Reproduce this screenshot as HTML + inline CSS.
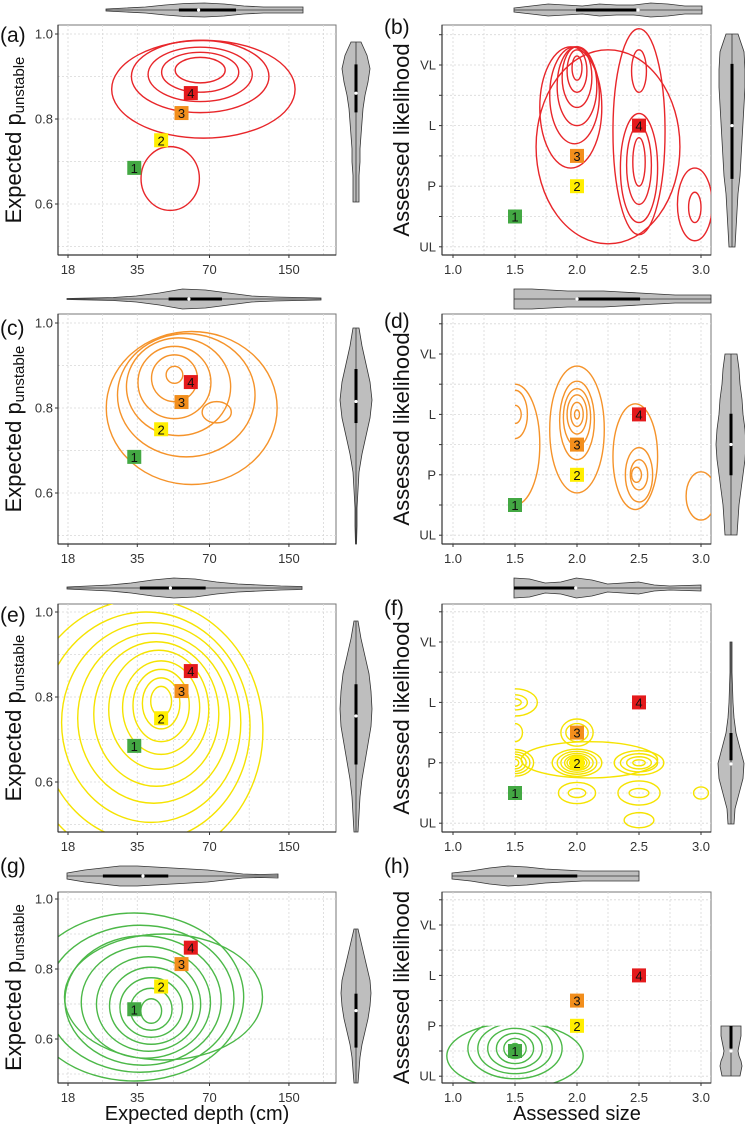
<!DOCTYPE html>
<html><head><meta charset="utf-8">
<style>
html,body{margin:0;padding:0;background:#fff;}
svg{display:block;font-family:"Liberation Sans",sans-serif;}
</style></head>
<body>
<svg id="fig" width="745" height="1129" viewBox="0 0 745 1129" xmlns="http://www.w3.org/2000/svg"></svg>
<script>
// ---- marker data (same in every row) ----
const markerLabels = ["1","2","3","4"];
const markerColors = ["#43a843","#ffee00","#f28e1c","#e41a1c"];
const depthVals = [34, 44, 53.5, 58.5];
const pVals = [0.685, 0.75, 0.814, 0.861];
const sizeVals = [1.5, 2.0, 2.0, 2.5];
const likVals = [2, 3, 4, 5];
// ---- axis ticks ----
const depthTicks = [18, 35, 70, 150];
const pTicks = [1.0, 0.8, 0.6];
const pMinor = [0.9, 0.7, 0.5];
const sizeTicks = [1.0, 1.5, 2.0, 2.5, 3.0];
const likLevels = [1,2,3,4,5,6,7,8];
const likLabels = ["UL","","P","","L","","VL",""];
// ---- contour rings (centre, radius in data units; x radius in ln-depth for left panels) ----
const aRingX=[64,64,64,64,66,48], aRingY=[0.915,0.91,0.905,0.9,0.87,0.66], aRingRX=[0.24,0.37,0.5,0.66,0.88,0.28], aRingRY=[0.03,0.047,0.064,0.085,0.115,0.075];
const bRingX=[2.0,2.0,2.0,2.0,1.98,1.95,2.5,2.5,2.5,2.5,2.5,2.95,2.95,2.25], bRingY=[6.9,6.8,6.6,6.3,6.0,5.6,6.8,3.8,3.7,3.6,4.8,2.3,2.4,4.3], bRingRX=[0.04,0.08,0.12,0.16,0.2,0.25,0.06,0.05,0.1,0.15,0.21,0.05,0.14,0.58], bRingRY=[0.4,0.7,1.0,1.3,1.6,2.0,0.7,0.8,1.3,1.8,3.4,0.5,1.2,3.2];
const cRingX=[50,50,50,52,56,59,75], cRingY=[0.878,0.87,0.86,0.85,0.83,0.8,0.79], cRingRX=[0.08,0.22,0.35,0.5,0.66,0.82,0.14], cRingRY=[0.02,0.055,0.085,0.115,0.145,0.18,0.025];
const dRingX=[2,2,2,2,2,2,2.48,2.5,2.5,2.47,1.5,1.5,1.5,3.0], dRingY=[5,5,5,4.9,4.8,4.5,3,3,3,3.6,5,5,4,2.3], dRingRX=[0.02,0.05,0.08,0.11,0.14,0.22,0.04,0.07,0.11,0.18,0.05,0.1,0.2,0.12], dRingRY=[0.15,0.4,0.65,0.95,1.3,2.1,0.25,0.5,0.9,1.75,0.3,0.8,2.0,0.8];
const eRingX=[44,44,44,44,43,42,41,40,38,37], eRingY=[0.79,0.785,0.78,0.775,0.77,0.76,0.75,0.74,0.73,0.72], eRingRX=[0.1,0.18,0.27,0.37,0.48,0.6,0.73,0.86,1.0,1.15], eRingRY=[0.035,0.06,0.085,0.11,0.14,0.17,0.2,0.235,0.27,0.31];
const fRingX=[2,2,2,2,2,2,2,2,2.5,2.5,2.5,2.5,1.5,1.5,1.5,1.5,1.5,2,2,2,1.5,1.5,1.5,1.5,2,2,2.5,2.5,3,2.5,2.1];
const fRingY=[3,3,3,3,3,3,3,3,3,3,3,3,3,3,3,3,3,4,4,4,5,5,5,4,2,2,2,2,2,1.1,3.1];
const fRingRX=[0.02,0.04,0.06,0.08,0.1,0.13,0.16,0.2,0.05,0.1,0.15,0.2,0.03,0.06,0.09,0.12,0.15,0.05,0.09,0.13,0.05,0.1,0.18,0.06,0.07,0.15,0.08,0.17,0.06,0.12,0.55];
const fRingRY=[0.06,0.1,0.15,0.2,0.25,0.31,0.38,0.45,0.1,0.2,0.3,0.4,0.12,0.2,0.28,0.36,0.44,0.15,0.3,0.45,0.12,0.25,0.45,0.3,0.15,0.35,0.15,0.4,0.2,0.25,0.6];
const gRingX=[40,40,40,40,39,38,37,36,34,45], gRingY=[0.68,0.685,0.69,0.695,0.7,0.705,0.71,0.715,0.72,0.72], gRingRX=[0.1,0.2,0.3,0.4,0.5,0.62,0.75,0.9,1.05,0.95], gRingRY=[0.035,0.06,0.085,0.11,0.135,0.16,0.185,0.21,0.24,0.18];
const hRingX=[1.5,1.5,1.5,1.5,1.5,1.5,1.5], hRingY=[2.1,2.1,2.1,2.1,2.1,2.1,1.8], hRingRX=[0.04,0.09,0.15,0.22,0.3,0.38,0.55], hRingRY=[0.2,0.4,0.6,0.8,1.0,1.2,1.3];
// ---- violin half-widths ----
const aTopW=[1,2,3,5,6.5,7,6,4,3,3,3], bTopW=[2,4,6,5,4,6,5,5,7,6,4,4], cTopW=[0.5,1,1.5,3,6,10,9,6,3,2,1.5,1], dTopW=[10,10,9,8,8,8,7,6,5,4,4,4];
const eTopW=[1,2,3,5,8,10,9,6,4,3,2,1.5], fTopW=[10,9,5,6,10,8,4,5,6,3,2,2.5,3], gTopW=[3,6,8,10,10,9,8,7,6,4,2,1.5,2], hTopW=[3,5,8,10,9,7,6,5,5,5,5];
const aSideW=[5,11,14,12,9,7,6,5,4,4,3,3,3], bSideW=[6,12,13,13,12,11,10,9,8,6,5,4,3], cSideW=[3,6,10,14,16,14,10,6,3,2,1,1,0.5], dSideW=[6,8,9,11,12,14,15,14,12,10,8,7,6];
const eSideW=[2,5,9,13,15,16,15,12,9,6,4,3,2], fSideW=[1,1,1,1.5,2,3,5,9,13,12,8,4,3], gSideW=[2,5,8,11,14,15,14,12,9,6,4,3,2], hSideW=[10,10,10,9,8,7,8,10,11,10,9];
const topBox=[[0.37,0.66,0.47],[0.33,0.65,0.66],[0.40,0.61,0.48],[0.32,0.64,0.32],[0.31,0.59,0.44],[0,0.33,0.33],[0.17,0.48,0.36],[0.34,0.67,0.34]];
const sideBox=[[0.14,0.44,0.32],[0.14,0.68,0.43],[0.19,0.44,0.34],[0.33,0.67,0.5],[0.3,0.68,0.45],[0.5,0.65,0.67],[0.42,0.77,0.53],[0,0.45,0.5]];

const NS="http://www.w3.org/2000/svg";
const svg=document.getElementById('fig');
function mk(tag,attrs,parent){const e=document.createElementNS(NS,tag);for(const k in attrs)e.setAttribute(k,attrs[k]);(parent||svg).appendChild(e);return e;}

const rows=[{top:25,bot:255,y1:34,pp:425,vl:65,lp:30.3,label:42,rlabel:34},
{top:314,bot:544,y1:323,pp:425,vl:354,lp:30.2,label:335,rlabel:328},
{top:604,bot:832,y1:612,pp:425,vl:642,lp:30.2,label:622,rlabel:615},
{top:892,bot:1083,y1:899,pp:350,vl:925,lp:25.2,label:873,rlabel:873}];
const colors=["#e8262a","#f5932a","#f5e300","#4cb848"];
const L0=58,L1=336,R0=442,R1=711;
function sxL(d){return 68+104.2*Math.log(d/18);}
function sxR(s){return 453+124*(s-1);}

const ringsL=[[aRingX,aRingY,aRingRX,aRingRY],[cRingX,cRingY,cRingRX,cRingRY],[eRingX,eRingY,eRingRX,eRingRY],[gRingX,gRingY,gRingRX,gRingRY]];
const ringsR=[[bRingX,bRingY,bRingRX,bRingRY],[dRingX,dRingY,dRingRX,dRingRY],[fRingX,fRingY,fRingRX,fRingRY],[hRingX,hRingY,hRingRX,hRingRY]];
const topW=[aTopW,bTopW,cTopW,dTopW,eTopW,fTopW,gTopW,hTopW];
const sideW=[aSideW,bSideW,cSideW,dSideW,eSideW,fSideW,gSideW,hSideW];
const topSpan=[[106,303,10],[514,702,10],[67,321,299],[514,711,299],[67,302,588],[514,701,588],[67,278,876],[452,639,876]];
const sideSpan=[[356,42,202],[732,34,247],[356,328,544],[731,354,535],[356,621,832],[731,642,824],[356,929,1083],[731,1026,1076]];
const letters="abcdefgh";

function violinTop(i){
  const [x0,x1,cy]=topSpan[i], w=topW[i], n=w.length;
  const g=mk('g',{});
  
  
  let up=[],dn=[];
  for(let k=0;k<n;k++){const x=x0+(x1-x0)*k/(n-1);up.push(x+','+(cy-w[k]));dn.unshift(x+','+(cy+w[k]));}
  mk('polygon',{points:up.concat(dn).join(' '),fill:'#bebebe',stroke:'#333','stroke-width':0.8},g);
  mk('line',{x1:x0,x2:x1,y1:cy,y2:cy,stroke:'#333','stroke-width':0.8},g);
  const b=topBox[i];
  mk('line',{x1:x0+(x1-x0)*b[0],x2:x0+(x1-x0)*b[1],y1:cy,y2:cy,stroke:'#000','stroke-width':3},g);
  mk('circle',{cx:x0+(x1-x0)*b[2],cy:cy,r:1.6,fill:'#fff'},g);
}
function violinSide(i){
  const [cx,y0,y1]=sideSpan[i], w=sideW[i], n=w.length;
  const g=mk('g',{});
  
  
  let l=[],r=[];
  for(let k=0;k<n;k++){const y=y0+(y1-y0)*k/(n-1);l.push((cx-w[k])+','+y);r.unshift((cx+w[k])+','+y);}
  mk('polygon',{points:l.concat(r).join(' '),fill:'#bebebe',stroke:'#333','stroke-width':0.8},g);
  mk('line',{x1:cx,x2:cx,y1:y0,y2:y1,stroke:'#333','stroke-width':0.8},g);
  const b=sideBox[i];
  mk('line',{y1:y0+(y1-y0)*b[0],y2:y0+(y1-y0)*b[1],x1:cx,x2:cx,stroke:'#000','stroke-width':3},g);
  mk('circle',{cy:y0+(y1-y0)*b[2],cx:cx,r:1.6,fill:'#fff'},g);
}

const defs=mk('defs',{});
rows.forEach((row,ri)=>{
  const syL=p=>row.y1+(1-p)*row.pp;
  const syR=l=>row.vl+(7-l)*row.lp;
  const li=ri*2, ri2=ri*2+1;
  const gl=mk('g',{});
  
  
  mk('rect',{x:L0,y:row.top,width:L1-L0,height:row.bot-row.top,fill:'#fff',stroke:'#777','stroke-width':1},gl);
  const lx=depthTicks.map(sxL);
  const lminor=[];for(let k=0;k<lx.length-1;k++)lminor.push((lx[k]+lx[k+1])/2);lminor.push(lx[lx.length-1]+(lx[1]-lx[0])/2);
  lx.concat(lminor).forEach(x=>mk('line',{x1:x,x2:x,y1:row.top,y2:row.bot,stroke:'#d8d8d8','stroke-width':0.8,'stroke-dasharray':'2,2'},gl));
  pTicks.concat(pMinor).forEach(p=>mk('line',{x1:L0,x2:L1,y1:syL(p),y2:syL(p),stroke:'#d8d8d8','stroke-width':0.8,'stroke-dasharray':'2,2'},gl));
  const cpL=mk('clipPath',{id:'clipL'+ri},defs);
  mk('rect',{x:L0,y:row.top,width:L1-L0,height:row.bot-row.top},cpL);
  const gcl=mk('g',{'clip-path':'url(#clipL'+ri+')'},gl);
  
  
  const R=ringsL[ri];
  for(let k=0;k<R[0].length;k++){
    const e=mk('ellipse',{cx:sxL(R[0][k]),cy:syL(R[1][k]),rx:R[2][k]*104.2,ry:R[3][k]*row.pp,fill:'none',stroke:colors[ri],'stroke-width':1.4},gcl);
    
    
  }
  mk('line',{x1:L0,x2:L0,y1:row.top,y2:row.bot,stroke:'#333','stroke-width':1.2},gl);
  mk('line',{x1:L0,x2:L1,y1:row.bot,y2:row.bot,stroke:'#333','stroke-width':1.2},gl);
  depthTicks.forEach(d=>{const x=sxL(d);
    mk('line',{x1:x,x2:x,y1:row.bot,y2:row.bot+3,stroke:'#333'},gl);
    const t=mk('text',{x:x,y:row.bot+19,'font-size':13,fill:'#333','text-anchor':'middle'},gl);t.textContent=d;
    
    });
  pTicks.forEach(p=>{const y=syL(p);
    mk('line',{x1:L0-3,x2:L0,y1:y,y2:y,stroke:'#333'},gl);
    const t=mk('text',{x:L0-5,y:y+4.5,'font-size':13,fill:'#333','text-anchor':'end'},gl);t.textContent=p.toFixed(1);
    
    });
  for(let k=0;k<4;k++){
    const x=sxL(depthVals[k]),y=syL(pVals[k]);
    const m=mk('g',{},gl);
    
    
    mk('rect',{x:x-7,y:y-7,width:14,height:14,fill:markerColors[k]},m);
    const t=mk('text',{x:x,y:y+5,'font-size':13,fill:'#111','text-anchor':'middle'},m);t.textContent=markerLabels[k];
  }
  const ty=(row.top+row.bot)/2;
  const yt=mk('text',{transform:'translate(21,'+ty+') rotate(-90)','font-size':22,fill:'#111','text-anchor':'middle'});
  
  
  yt.innerHTML='Expected  p<tspan font-size="15" dy="3">unstable</tspan>';
  const pl=mk('text',{x:0,y:row.label,'font-size':21,fill:'#111'});pl.textContent='('+letters[li]+')';
  
  

  const gr=mk('g',{});
  
  
  mk('rect',{x:R0,y:row.top,width:R1-R0,height:row.bot-row.top,fill:'#fff',stroke:'#777','stroke-width':1},gr);
  const rminor=[1.25,1.75,2.25,2.75];
  sizeTicks.concat(rminor).forEach(s=>mk('line',{x1:sxR(s),x2:sxR(s),y1:row.top,y2:row.bot,stroke:'#d8d8d8','stroke-width':0.8,'stroke-dasharray':'2,2'},gr));
  likLevels.forEach(l=>mk('line',{x1:R0,x2:R1,y1:syR(l),y2:syR(l),stroke:'#d8d8d8','stroke-width':0.8,'stroke-dasharray':'2,2'},gr));
  let cx0=R0,cy0=row.top,cx1=R1,cy1=row.bot;
  if(ri===1||ri===2)cx0=sxR(1.5);
  if(ri===3)cy0=syR(3);
  const cpR=mk('clipPath',{id:'clipR'+ri},defs);
  mk('rect',{x:cx0,y:cy0,width:cx1-cx0,height:cy1-cy0},cpR);
  const gcr=mk('g',{'clip-path':'url(#clipR'+ri+')'},gr);
  
  
  const Q=ringsR[ri];
  for(let k=0;k<Q[0].length;k++){
    const e=mk('ellipse',{cx:sxR(Q[0][k]),cy:syR(Q[1][k]),rx:Q[2][k]*124,ry:Q[3][k]*row.lp,fill:'none',stroke:colors[ri],'stroke-width':1.4},gcr);
    
    
  }
  mk('line',{x1:R0,x2:R0,y1:row.top,y2:row.bot,stroke:'#333','stroke-width':1.2},gr);
  mk('line',{x1:R0,x2:R1,y1:row.bot,y2:row.bot,stroke:'#333','stroke-width':1.2},gr);
  sizeTicks.forEach(s=>{const x=sxR(s);
    mk('line',{x1:x,x2:x,y1:row.bot,y2:row.bot+3,stroke:'#333'},gr);
    const t=mk('text',{x:x,y:row.bot+19,'font-size':13,fill:'#333','text-anchor':'middle'},gr);t.textContent=s.toFixed(1);
    
    });
  likLevels.forEach((l,k)=>{const y=syR(l);
    mk('line',{x1:R0-3,x2:R0,y1:y,y2:y,stroke:'#333'},gr);
    if(likLabels[k]){const t=mk('text',{x:R0-6,y:y+4.5,'font-size':13,fill:'#333','text-anchor':'end'},gr);t.textContent=likLabels[k];
    
    }});
  for(let k=0;k<4;k++){
    const x=sxR(sizeVals[k]),y=syR(likVals[k]);
    const m=mk('g',{},gr);
    
    
    mk('rect',{x:x-7,y:y-7,width:14,height:14,fill:markerColors[k]},m);
    const t=mk('text',{x:x,y:y+5,'font-size':13,fill:'#111','text-anchor':'middle'},m);t.textContent=markerLabels[k];
  }
  const yt2=mk('text',{transform:'translate(409,'+ty+') rotate(-90)','font-size':22,fill:'#111','text-anchor':'middle'});
  yt2.textContent='Assessed likelihood';
  
  
  const pl2=mk('text',{x:384,y:row.rlabel,'font-size':21,fill:'#111'});pl2.textContent='('+letters[ri2]+')';
  
  
});
for(let i=0;i<8;i++){violinTop(i);violinSide(i);}
const xt1=mk('text',{x:197,y:1120,'font-size':20,fill:'#111','text-anchor':'middle'});xt1.textContent='Expected depth (cm)';


const xt2=mk('text',{x:577,y:1120,'font-size':20,fill:'#111','text-anchor':'middle'});xt2.textContent='Assessed size';


</script>
</body></html>
